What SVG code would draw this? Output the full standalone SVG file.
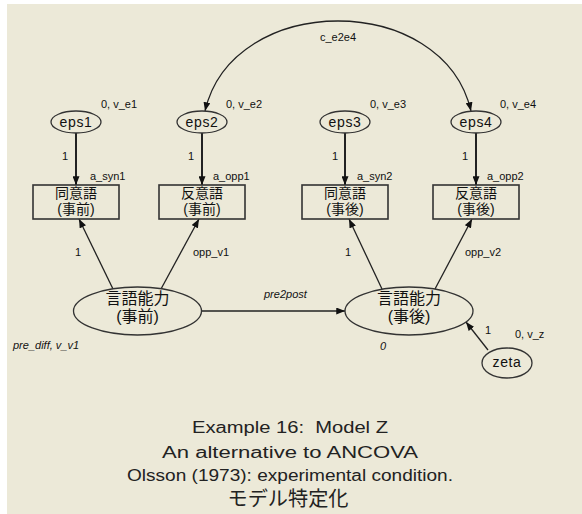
<svg xmlns="http://www.w3.org/2000/svg" width="582" height="514" viewBox="0 0 582 514">
<defs>
<marker id="ah" viewBox="0 0 10 8" refX="10" refY="4" markerWidth="9" markerHeight="7" markerUnits="userSpaceOnUse" orient="auto-start-reverse">
<path d="M0,0 L10,4 L0,8 Z" fill="#111"/>
</marker>
<style>
.nd{fill:none;stroke:#333;stroke-width:1.3}
.bx{fill:none;stroke:#333;stroke-width:1.6}
.ln{fill:none;stroke:#222;stroke-width:1.3}
.lt{fill:none;stroke:#222;stroke-width:2}
.lb{font-family:"Liberation Sans",Arial,sans-serif;font-size:11px;fill:#111}
.it{font-family:"Liberation Sans",Arial,sans-serif;font-size:11px;font-style:italic;fill:#111}
.en{font-family:"Liberation Sans",Arial,sans-serif;font-size:14px;letter-spacing:0.6px;fill:#111;text-anchor:middle}
.cj{font-family:"Liberation Sans","Noto Sans CJK JP",sans-serif;font-size:14px;fill:#111;text-anchor:middle}
.cl{font-family:"Liberation Sans","Noto Sans CJK JP",sans-serif;font-size:16px;fill:#111;text-anchor:middle}
.ti{font-family:"Liberation Sans","Noto Sans CJK JP",sans-serif;font-size:16px;fill:#222;text-anchor:middle}
</style>
</defs>
<rect width="582" height="514" fill="#fff"/>
<rect x="7" y="4" width="575" height="510" fill="#ECE9D8"/>

<g id="connectors">
<line class="lt" x1="76" y1="133" x2="76" y2="185" marker-end="url(#ah)"/>
<line class="lt" x1="202" y1="133" x2="202" y2="185" marker-end="url(#ah)"/>
<line class="lt" x1="345" y1="133" x2="345" y2="185" marker-end="url(#ah)"/>
<line class="lt" x1="476" y1="133" x2="476" y2="185" marker-end="url(#ah)"/>
<line class="ln" x1="113" y1="289" x2="79" y2="219" marker-end="url(#ah)"/>
<line class="ln" x1="161" y1="289" x2="199" y2="219" marker-end="url(#ah)"/>
<line class="ln" x1="382" y1="289" x2="349" y2="219" marker-end="url(#ah)"/>
<line class="ln" x1="435" y1="289" x2="472" y2="219" marker-end="url(#ah)"/>
<line class="ln" x1="202" y1="311" x2="345" y2="311" marker-end="url(#ah)"/>
<line class="ln" x1="488" y1="350" x2="466" y2="322" marker-end="url(#ah)"/>
<path class="ln" d="M205,111 C233,-9 443,-9 471,111" marker-start="url(#ah)" marker-end="url(#ah)"/>
</g>

<g id="eps1">
<ellipse class="nd" cx="76" cy="122" rx="25" ry="11"/>
<text class="en" x="76" y="127">eps1</text>
<text class="lb" x="101" y="108">0, v_e1</text>
</g>
<g id="eps2">
<ellipse class="nd" cx="202" cy="122" rx="25" ry="11"/>
<text class="en" x="202" y="127">eps2</text>
<text class="lb" x="226" y="108">0, v_e2</text>
</g>
<g id="eps3">
<ellipse class="nd" cx="345" cy="122" rx="25" ry="11"/>
<text class="en" x="345" y="127">eps3</text>
<text class="lb" x="370" y="108">0, v_e3</text>
</g>
<g id="eps4">
<ellipse class="nd" cx="476" cy="122" rx="25" ry="11"/>
<text class="en" x="476" y="127">eps4</text>
<text class="lb" x="500" y="108">0, v_e4</text>
</g>

<g id="syn_pre">
<rect class="bx" x="33" y="185" width="86" height="34"/>
<text class="cj" x="76" y="198">同意語</text>
<text class="cj" x="76" y="214">(事前)</text>
</g>
<g id="opp_pre">
<rect class="bx" x="159" y="185" width="86" height="34"/>
<text class="cj" x="202" y="198">反意語</text>
<text class="cj" x="202" y="214">(事前)</text>
</g>
<g id="syn_post">
<rect class="bx" x="302" y="185" width="86" height="34"/>
<text class="cj" x="345" y="198">同意語</text>
<text class="cj" x="345" y="214">(事後)</text>
</g>
<g id="opp_post">
<rect class="bx" x="433" y="185" width="86" height="34"/>
<text class="cj" x="476" y="198">反意語</text>
<text class="cj" x="476" y="214">(事後)</text>
</g>

<g id="verbal_pre">
<ellipse class="nd" cx="137.5" cy="311" rx="64" ry="24"/>
<text class="cl" x="137.5" y="304">言語能力</text>
<text class="cl" x="137.5" y="322">(事前)</text>
<text class="it" x="13" y="349">pre_diff, v_v1</text>
</g>
<g id="verbal_post">
<ellipse class="nd" cx="409" cy="311" rx="64" ry="24"/>
<text class="cl" x="409" y="304">言語能力</text>
<text class="cl" x="409" y="322">(事後)</text>
<text class="it" x="380" y="350">0</text>
</g>
<g id="zeta">
<ellipse class="nd" cx="507" cy="363" rx="25" ry="15"/>
<text class="en" x="507" y="367">zeta</text>
<text class="lb" x="515" y="338">0, v_z</text>
</g>

<g id="labels">
<text class="lb" x="62" y="160">1</text>
<text class="lb" x="188" y="160">1</text>
<text class="lb" x="332" y="160">1</text>
<text class="lb" x="462" y="160">1</text>
<text class="lb" x="90" y="180">a_syn1</text>
<text class="lb" x="213" y="180">a_opp1</text>
<text class="lb" x="357" y="180">a_syn2</text>
<text class="lb" x="487" y="180">a_opp2</text>
<text class="lb" x="75" y="256">1</text>
<text class="lb" x="193" y="256">opp_v1</text>
<text class="lb" x="345" y="256">1</text>
<text class="lb" x="465" y="256">opp_v2</text>
<text class="it" x="264" y="298">pre2post</text>
<text class="lb" x="485" y="334">1</text>
<text class="lb" x="320" y="41">c_e2e4</text>
</g>

<g id="title">
<text class="ti" x="290" y="433" textLength="196" lengthAdjust="spacingAndGlyphs">Example 16:&#160; Model Z</text>
<text class="ti" x="290" y="458" textLength="256" lengthAdjust="spacingAndGlyphs">An alternative to ANCOVA</text>
<text class="ti" x="290" y="481" textLength="326" lengthAdjust="spacingAndGlyphs">Olsson (1973): experimental condition.</text>
<text class="ti" x="288" y="506" style="font-size:20px" textLength="121" lengthAdjust="spacingAndGlyphs">モデル特定化</text>
</g>
</svg>
